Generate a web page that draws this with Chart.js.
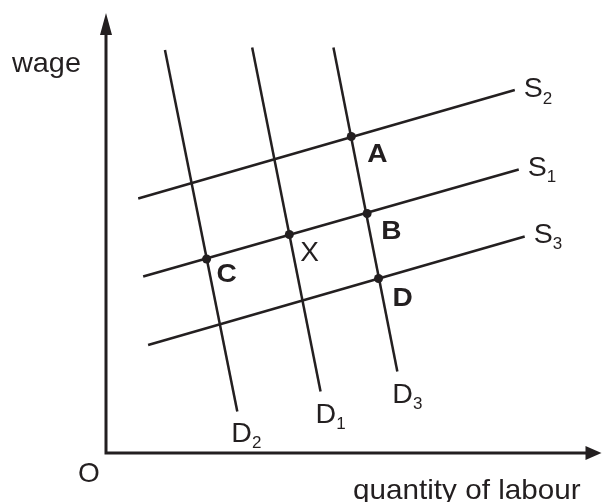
<!DOCTYPE html>
<html lang="en">
<head>
  <meta charset="UTF-8" />
  <title>Labour market: supply and demand shifts</title>
  <script src="https://cdn.jsdelivr.net/npm/chart.js"></script>
  <style>
    body {
      margin: 0;
      background: #fff;
    }
    .chart-container {
      width: 606px;
      height: 502px;
    }
  </style>
</head>
<body>

  <div class="chart-container">
    <canvas id="labourChart" width="606" height="502"></canvas>
  </div>

  <script>
    // Curves: name, start point and end point (quantity, wage)
    const curveNames = ['S2', 'S1', 'S3', 'D2', 'D1', 'D3'];
    const curveStartQ = [6.5, 7.5, 8.5, 11.9, 29.5, 45.9];
    const curveStartW = [50.9, 35.3, 21.6, 80.6, 81.1, 81.1];
    const curveEndQ = [82.5, 83.3, 84.5, 26.5, 43.3, 58.8];
    const curveEndW = [72.6, 56.7, 43.3, 8.3, 12.3, 16.3];

    // Equilibrium points
    const pointNames = ['A', 'B', 'X', 'C', 'D'];
    const pointQ = [49.5, 52.7, 37.0, 20.3, 55.0];
    const pointW = [63.3, 47.9, 43.7, 38.8, 34.9];

    const ink = '#231f20';
    const fontFamily = '"Liberation Sans", Arial, sans-serif';

    // label offsets in pixels from the curve end / point
    const curveLabelOffset = {
      S2: [9, 7], S1: [9, 6], S3: [9, 6],
      D2: [-6, 30], D1: [-5, 31], D3: [-5, 31]
    };
    const pointLabelOffset = {
      A: [16, 25], B: [14, 25], X: [11, 26], C: [10, 23], D: [14, 27]
    };

    const datasets = curveNames.map((name, i) => ({
      label: name,
      data: [
        { x: curveStartQ[i], y: curveStartW[i] },
        { x: curveEndQ[i], y: curveEndW[i] }
      ],
      showLine: true,
      borderColor: ink,
      borderWidth: 2.5,
      pointRadius: 0
    }));

    datasets.push({
      label: 'points',
      data: pointQ.map((q, i) => ({ x: q, y: pointW[i] })),
      showLine: false,
      pointRadius: 4.5,
      pointBackgroundColor: ink,
      pointBorderWidth: 0
    });

    // slightly wide lettering, like the original artwork
    function wideText(ctx, text, x, y, stretch) {
      ctx.save();
      ctx.translate(x, y);
      ctx.scale(stretch, 1);
      ctx.fillText(text, 0, 0);
      ctx.restore();
      return ctx.measureText(text).width * stretch;
    }

    // axes with arrow heads, drawn from the scales
    const axesPlugin = {
      id: 'axes',
      beforeDatasetsDraw(chart) {
        const { ctx, scales: { x, y } } = chart;
        const x0 = x.getPixelForValue(0);
        const y0 = y.getPixelForValue(0);
        const yTop = y.getPixelForValue(y.max);
        const xEnd = x.getPixelForValue(x.max);
        ctx.save();
        ctx.strokeStyle = ink;
        ctx.fillStyle = ink;
        ctx.lineWidth = 3;
        ctx.beginPath();
        ctx.moveTo(x0, yTop + 20);
        ctx.lineTo(x0, y0);
        ctx.lineTo(xEnd - 14, y0);
        ctx.stroke();
        // arrow up
        ctx.beginPath();
        ctx.moveTo(x0, yTop);
        ctx.lineTo(x0 - 6, yTop + 22);
        ctx.lineTo(x0 + 6, yTop + 22);
        ctx.closePath();
        ctx.fill();
        // arrow right
        ctx.beginPath();
        ctx.moveTo(xEnd, y0);
        ctx.lineTo(xEnd - 16, y0 - 7);
        ctx.lineTo(xEnd - 16, y0 + 7);
        ctx.closePath();
        ctx.fill();
        ctx.restore();
      }
    };

    // text labels
    const labelsPlugin = {
      id: 'labels',
      afterDraw(chart) {
        const { ctx, scales: { x, y } } = chart;
        const x0 = x.getPixelForValue(0);
        const y0 = y.getPixelForValue(0);
        ctx.save();
        ctx.fillStyle = ink;
        ctx.textBaseline = 'alphabetic';
        ctx.textAlign = 'left';

        ctx.font = '28px ' + fontFamily;
        wideText(ctx, 'wage', x0 - 94, 71.5, 1.03);
        wideText(ctx, 'O', x0 - 28, y0 + 29, 1);
        ctx.font = '28px ' + fontFamily;
        wideText(ctx, 'quantity of labour', 353, y0 + 46, 1.06);

        // curve names with subscripts
        curveNames.forEach((name, i) => {
          const off = curveLabelOffset[name];
          const px = x.getPixelForValue(curveEndQ[i]) + off[0];
          const py = y.getPixelForValue(curveEndW[i]) + off[1];
          ctx.font = '28px ' + fontFamily;
          const w = wideText(ctx, name[0], px, py, 1.02);
          ctx.font = '17px ' + fontFamily;
          wideText(ctx, name.slice(1), px + w, py + 6.5, 1);
        });

        // point letters
        pointNames.forEach((name, i) => {
          const off = pointLabelOffset[name];
          const px = x.getPixelForValue(pointQ[i]) + off[0];
          const py = y.getPixelForValue(pointW[i]) + off[1];
          ctx.font = name === 'X' ? '28px ' + fontFamily : 'bold 26px ' + fontFamily;
          wideText(ctx, name, px, py, name === 'X' ? 1 : 1.08);
        });
        ctx.restore();
      }
    };

    const ctx = document.getElementById('labourChart').getContext('2d');
    const labourChart = new Chart(ctx, {
      type: 'scatter',
      data: { datasets },
      options: {
        responsive: false,
        devicePixelRatio: 1,
        animation: false,
        layout: {
          padding: { left: 106, right: 0, top: 13, bottom: 49 }
        },
        scales: {
          x: { type: 'linear', min: 0, max: 100, display: false },
          y: { type: 'linear', min: 0, max: 88, display: false }
        },
        plugins: {
          legend: { display: false },
          tooltip: { enabled: false }
        }
      },
      plugins: [axesPlugin, labelsPlugin]
    });
  </script>

</body>
</html>
